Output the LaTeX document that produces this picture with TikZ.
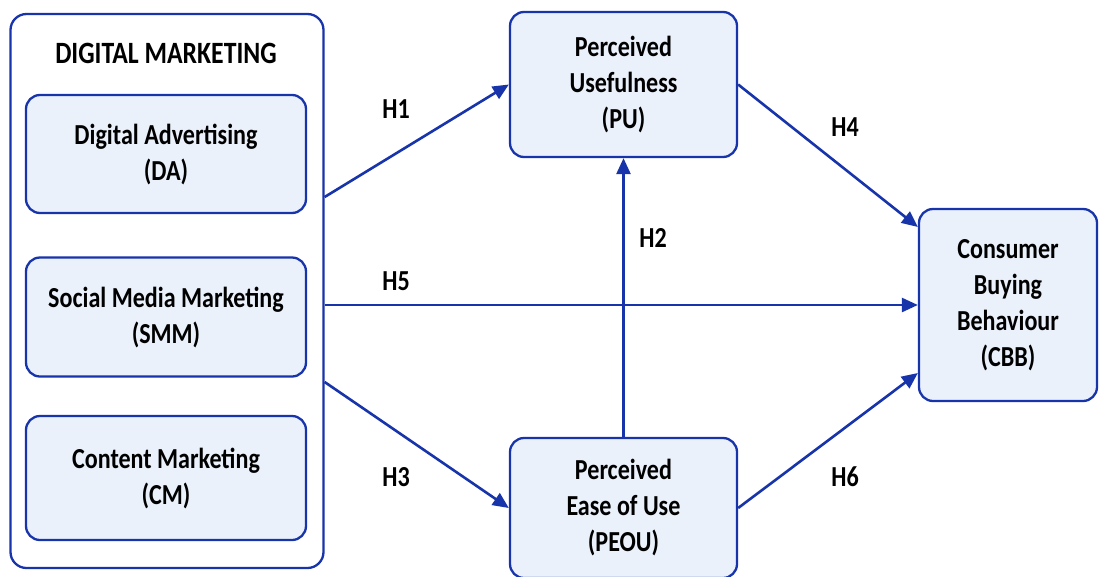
\documentclass[tikz,border=0pt]{standalone}
\usepackage{fontspec}
\setmainfont[FakeStretch=0.83]{Carlito}
\usetikzlibrary{arrows.meta}
\definecolor{dmblue}{RGB}{24,52,170}
\definecolor{dmfill}{RGB}{234,241,251}

\tikzstyle{construct}=[draw=dmblue,line width=2.3pt,fill=dmfill,rounded corners=14pt,align=center,inner sep=0pt,font=\bfseries\fontsize{29}{36}\selectfont]
\tikzstyle{outer box}=[draw=dmblue,line width=2.3pt,fill=white,rounded corners=16pt,inner sep=0pt]
\tikzstyle{hyp}=[font=\bfseries\fontsize{29}{36}\selectfont]
\tikzstyle{path edge}=[draw=dmblue,line width=2.6pt,-{Triangle[length=16pt,width=14pt]}]

\begin{document}
\begin{tikzpicture}[x=1pt,y=-1pt]
			\useasboundingbox (0,0) rectangle (1099,576);
			% digital marketing block
			\node[outer box,minimum width=313pt,minimum height=554pt] (dm) at (167,291) {};
			\node[hyp,font=\bfseries\fontsize{31}{36}\selectfont] (title) at (166,53) {DIGITAL MARKETING};
			\node[construct,minimum width=280pt,minimum height=118pt] (da) at (166,154) {Digital Advertising\\(DA)};
			\node[construct,minimum width=280pt,minimum height=119pt] (smm) at (166,317) {Social Media Marketing\\(SMM)};
			\node[construct,minimum width=280pt,minimum height=124pt] (cm) at (166,478) {Content Marketing\\(CM)};
			% mediators and outcome
			\node[construct,minimum width=227pt,minimum height=145pt] (pu) at (623.5,84.5) {Perceived\\Usefulness\\(PU)};
			\node[construct,minimum width=227pt,minimum height=140pt] (peou) at (623.5,508) {Perceived\\Ease of Use\\(PEOU)};
			\node[construct,minimum width=178pt,minimum height=192pt] (cbb) at (1008,305) {Consumer\\Buying\\Behaviour\\(CBB)};
			% end points on the borders
			\coordinate (h1s) at ([yshift=94pt]dm.east);
			\coordinate (h3s) at ([yshift=-91pt]dm.east);
			\coordinate (h5s) at (dm.east |- cbb.west);
			\coordinate (h4e) at ([yshift=78pt]cbb.west);
			\coordinate (h6e) at ([yshift=-68pt]cbb.west);
			% hypotheses
			\foreach \source/ \dest in {h1s/pu.west, h3s/peou.west, h5s/cbb.west, peou.north/pu.south, pu.east/h4e, peou.east/h6e}
			\path[path edge] (\source) to (\dest);
			\node[hyp] (l1) at (396,109) {H1};
			\node[hyp] (l2) at (653,238) {H2};
			\node[hyp] (l3) at (396,477) {H3};
			\node[hyp] (l4) at (845,127) {H4};
			\node[hyp] (l5) at (396,281) {H5};
			\node[hyp] (l6) at (845,477) {H6};
		\end{tikzpicture}
\end{document}
